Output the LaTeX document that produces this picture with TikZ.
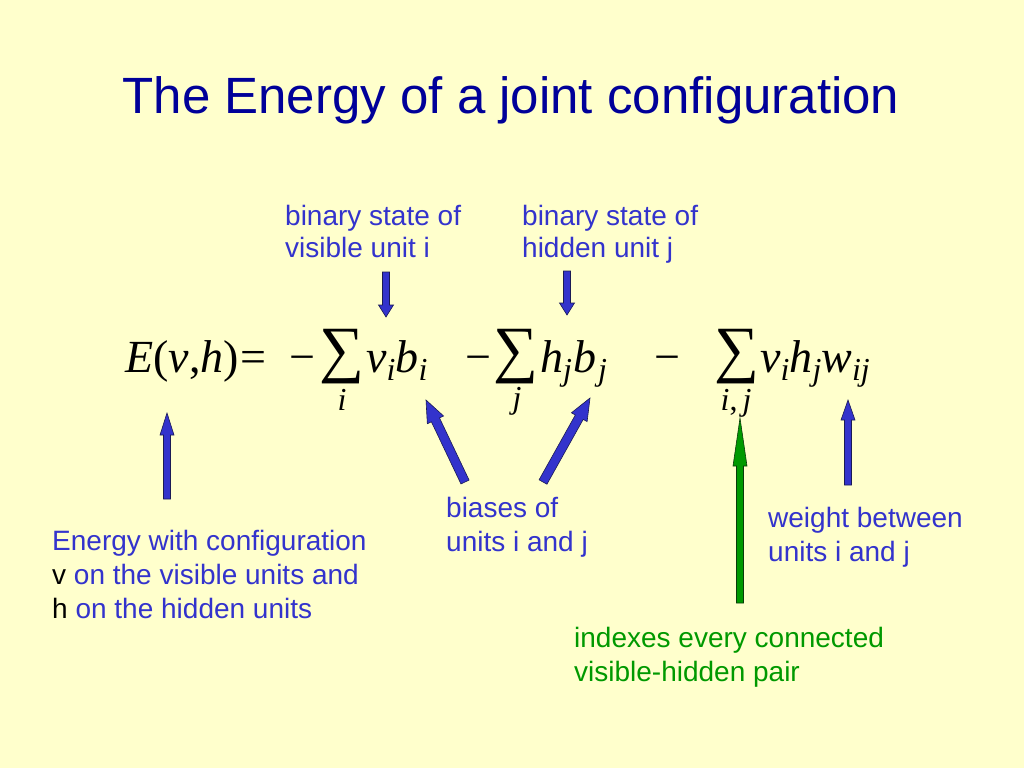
\documentclass[tikz,border=0pt]{standalone}
\usepackage{fontspec}
\setmainfont{Liberation Sans}
\newfontfamily\tnr{Liberation Serif}
\usetikzlibrary{calc}
\definecolor{bg}{HTML}{FFFFCC}
\definecolor{titleblue}{HTML}{000099}
\definecolor{txtblue}{HTML}{3333CC}
\definecolor{arrblue}{HTML}{3333CC}
\definecolor{arredge}{HTML}{1A1A55}
\definecolor{grn}{HTML}{009900}
\definecolor{grnedge}{HTML}{0A3A0A}
\newcommand\blockarrow[6]{%
  \coordinate (ba-h) at ($(#2)!#5!(#1)$);
  \filldraw[#6] ($(#1)!#3!90:(#2)$) -- ($(ba-h)!#3!-90:(#1)$) -- ($(ba-h)!#4!-90:(#1)$) -- (#2) -- ($(ba-h)!#4!90:(#1)$) -- ($(ba-h)!#3!90:(#1)$) -- ($(#1)!#3!-90:(#2)$) -- cycle;
}
\newcommand\sub[1]{\raisebox{-8pt}{\fontsize{32}{32}\selectfont #1}}
\tikzset{
  txt/.style={anchor=base west, inner sep=0pt, text=txtblue, font=\fontsize{28}{34}\selectfont},
  gtxt/.style={txt, text=grn},
  ttl/.style={anchor=base, inner sep=0pt, text=titleblue, font=\fontsize{51}{60}\selectfont},
  mth/.style={anchor=base west, inner sep=0pt, font=\tnr\fontsize{46}{56}\selectfont},
  mthc/.style={mth, anchor=base},
  sig/.style={inner sep=0pt, anchor=south, font=\tnr\fontsize{63}{70}\selectfont},
  idx/.style={anchor=base, inner sep=0pt, font=\tnr\itshape\fontsize{32}{36}\selectfont},
  barr/.style={fill=arrblue, draw=arredge, line width=0.6pt, line join=miter},
  garr/.style={fill=grn, draw=grnedge, line width=0.6pt, line join=miter},
}
\begin{document}
\begin{tikzpicture}[x=1pt,y=-1pt]
\useasboundingbox[fill=bg] (0,0) rectangle (1024,768);
% title
\node[ttl] (title) at (511,113) {The Energy of a joint configuration};
% formula
\node[mth] (lhs) at (125,372) {\itshape E\upshape(\itshape v\upshape,\itshape h\upshape)\kern2pt=};
\node[mthc] (m1) at (302,372) {−};
\node[sig] (s1) at (342,384) {∑};
\node[idx] (i1) at (342,410) {i};
\node[mth] (t1) at (366,372) {\itshape v\sub{i}b\sub{i}};
\node[mthc] (m2) at (478,372) {−};
\node[sig] (s2) at (516,384) {∑};
\node[idx] (i2) at (517,408) {j};
\node[mth] (t2) at (540,372) {\itshape h\sub{j}\kern1pt b\sub{\kern2pt j}};
\node[mthc] (m3) at (667,372) {−};
\node[sig] (s3) at (737,384) {∑};
\node[idx] (i3) at (736,410) {i\upshape,\itshape\kern5pt j};
\node[mth] (t3) at (760,372) {\itshape v\sub{i}h\sub{j}w\sub{ij}};
% labels
\node[txt] (l1a) at (285,225) {binary state of};
\node[txt] (l1b) at (285,257) {visible unit i};
\node[txt] (l2a) at (522,225) {binary state of};
\node[txt] (l2b) at (522,257) {hidden unit j};
\node[txt] (l3a) at (52,550) {Energy with configuration};
\node[txt] (l3b) at (52,584) {\textcolor{black}{v} on the visible units and};
\node[txt] (l3c) at (52,618) {\textcolor{black}{h} on the hidden units};
\node[txt] (l4a) at (446,517) {biases of};
\node[txt] (l4b) at (446,551) {units i and j};
\node[txt] (l5a) at (768,527) {weight between};
\node[txt] (l5b) at (768,561) {units i and j};
\node[gtxt] (l6a) at (574,647) {indexes every connected};
\node[gtxt] (l6b) at (574,681) {visible-hidden pair};
% arrows
\coordinate (a1s) at (386,272); \coordinate (a1t) at (386,317);
\coordinate (a2s) at (567,271); \coordinate (a2t) at (567,315);
\coordinate (a3s) at (167,499); \coordinate (a3t) at (167,413);
\coordinate (a4s) at (465,482); \coordinate (a4t) at (426,400);
\coordinate (a5s) at (543,482); \coordinate (a5t) at (590,398);
\coordinate (a6s) at (740,603); \coordinate (a6t) at (740,418);
\coordinate (a7s) at (848,485); \coordinate (a7t) at (848,400);
\blockarrow{a1s}{a1t}{3.5pt}{7.5pt}{12pt}{barr}
\blockarrow{a2s}{a2t}{3.5pt}{7.5pt}{12pt}{barr}
\blockarrow{a3s}{a3t}{3.5pt}{7pt}{22pt}{barr}
\blockarrow{a4s}{a4t}{4.5pt}{9pt}{22pt}{barr}
\blockarrow{a5s}{a5t}{4.5pt}{9pt}{22pt}{barr}
\blockarrow{a6s}{a6t}{3.5pt}{7pt}{48pt}{garr}
\blockarrow{a7s}{a7t}{3.5pt}{7pt}{20pt}{barr}
\end{tikzpicture}
\end{document}
